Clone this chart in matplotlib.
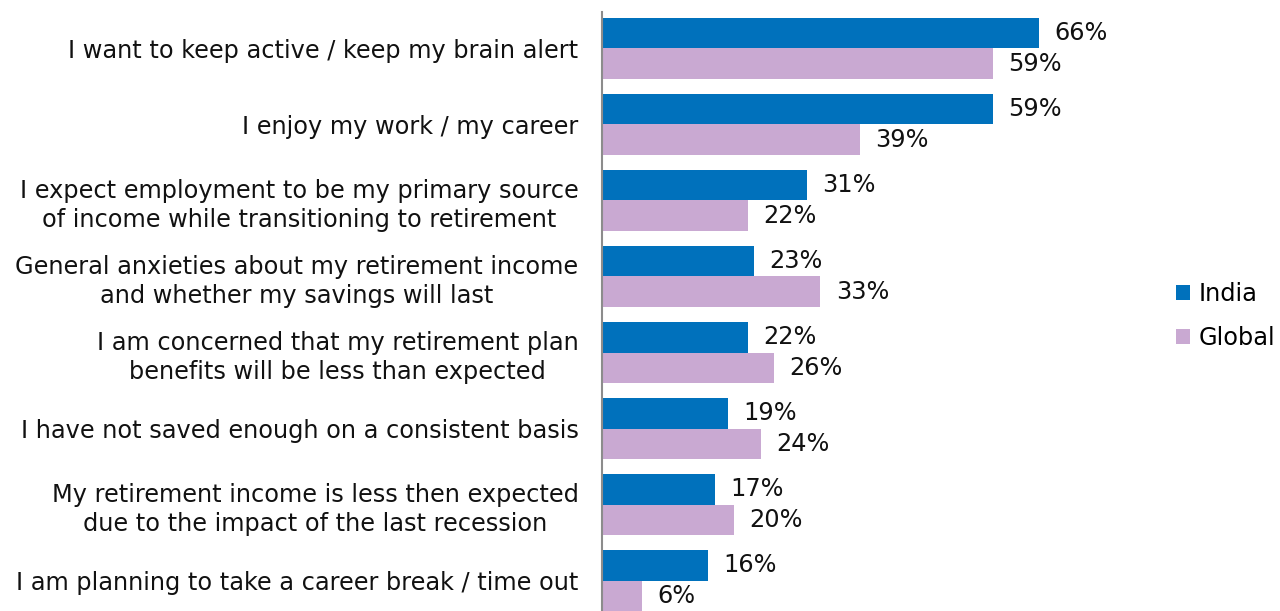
"""Reasons for working in retirement: India vs Global, grouped horizontal bars."""
import numpy as np
import matplotlib.pyplot as plt

## DATA
## ====
categories = [
    "I want to keep active / keep my brain alert",
    "I enjoy my work / my career",
    "I expect employment to be my primary source\nof income while transitioning to retirement",
    "General anxieties about my retirement income\nand whether my savings will last",
    "I am concerned that my retirement plan\nbenefits will be less than expected",
    "I have not saved enough on a consistent basis",
    "My retirement income is less then expected\ndue to the impact of the last recession",
    "I am planning to take a career break / time out",
]
india = [66, 59, 31, 23, 22, 19, 17, 16]
global_vals = [59, 39, 22, 33, 26, 24, 20, 6]
series_names = ["India", "Global"]

## STYLE
## =====
INDIA_COLOR = "#0071BC"
GLOBAL_COLOR = "#C9A9D2"
BAR_H = 0.401
FONT = 17.3

fig = plt.figure(figsize=(12.8, 6.11), dpi=100)
ax = fig.add_axes([602 / 1280, 0.0, 538 / 1280, 1 - 12 / 611])

y = np.arange(len(categories))
b1 = ax.barh(y - BAR_H / 2, india, height=BAR_H, color=INDIA_COLOR, label=series_names[0])
b2 = ax.barh(y + BAR_H / 2, global_vals, height=BAR_H, color=GLOBAL_COLOR, label=series_names[1])

# value labels
for bars in (b1, b2):
    ax.bar_label(bars, labels=[f"{v:.0f}%" for v in bars.datavalues],
                 padding=11, fontsize=FONT, color="#111111")

ax.set_xlim(0, 538 / 6.62)
ax.set_ylim(7.401, -0.480)

# category labels
ax.set_yticks(y)
ax.set_yticklabels(categories, fontsize=FONT, multialignment="center",
                   color="#111111", linespacing=1.25)
ax.tick_params(axis="y", length=0, pad=17)
ax.set_xticks([])

for side in ["top", "right", "bottom"]:
    ax.spines[side].set_visible(False)
ax.spines["left"].set_color("#8c8c8c")
ax.spines["left"].set_linewidth(1.5)

fig.legend(handles=[b1, b2], labels=series_names, loc="center left",
           bbox_to_anchor=(1166 / 1280, 1 - 316 / 611), frameon=False,
           fontsize=FONT, handlelength=0.6, handleheight=0.6,
           handletextpad=0.35, labelspacing=0.85, borderaxespad=0)

fig.savefig("out.png", dpi=100)
